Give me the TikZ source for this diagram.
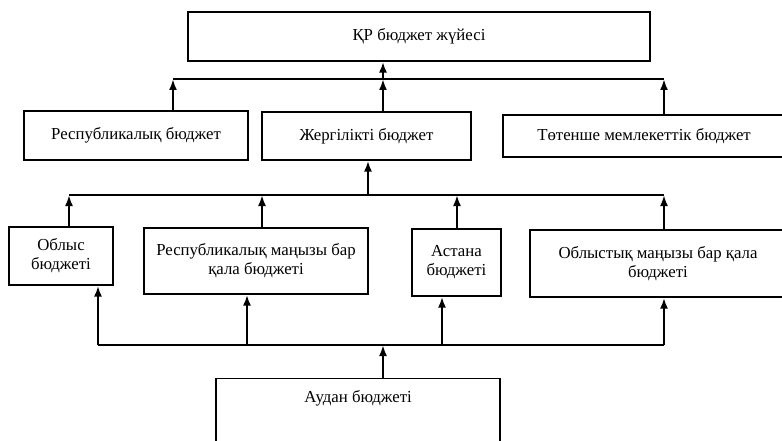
\documentclass[tikz,border=0pt]{standalone}
\usepackage{fontspec}
\setmainfont{Liberation Serif}
\usetikzlibrary{arrows.meta,positioning}
\tikzstyle{block} = [rectangle, draw, line width=1.2pt, align=center,
    inner sep=2pt, font=\fontsize{16.8}{19}\selectfont]
\tikzstyle{arrow} = [draw, -{Latex[length=11pt,width=8pt]}, line width=2.2pt]
\tikzstyle{line} = [draw, line width=1.5pt]

\begin{document}
\begin{tikzpicture}[x=1pt, y=-1pt]
      \useasboundingbox (0,0) rectangle (782,441);
      % Place nodes
      \node [block, minimum width=462pt, minimum height=49pt] at (419,36.5) (budgetSystem) {ҚР бюджет жүйесі};

      \node [block, minimum width=224pt, minimum height=49pt] at (136,135.5) (republicBudget) {Республикалық бюджет};
      \node [block, minimum width=209pt, minimum height=48pt] at (366.5,136) (localBudget) {Жергілікті бюджет};
      \node [block, minimum width=282pt, minimum height=42pt] at (644,136) (emergencyBudget) {Төтенше мемлекеттік бюджет};

      \node [block, minimum width=104pt, minimum height=58pt] at (61,256) (regionBudget) {Облыс\\бюджеті};
      \node [block, minimum width=224pt, minimum height=66pt] at (256,261) (republicCityBudget) {Республикалық маңызы бар\\қала бюджеті};
      \node [block, minimum width=89pt, minimum height=67pt] at (456.5,262.5) (astanaBudget) {Астана\\бюджеті};
      \node [block, minimum width=256pt, minimum height=67pt] at (658,263.5) (regionCityBudget) {Облыстық маңызы бар қала\\бюджеті};

      \node [block, minimum width=284pt, minimum height=70pt, text depth=34pt, anchor=north] at (358,378) (districtBudget) {Аудан бюджеті};

      % bus points
      \coordinate (topBusL) at (173,79);
      \coordinate (topBusM) at (383,79);
      \coordinate (topBusR) at (664,79);
      \coordinate (midBusL) at (69,195);
      \coordinate (midBusR) at (664,195);
      \coordinate (lowBusL) at (98,345);
      \coordinate (lowBusR) at (664,345);

      \path [line] (topBusL) -- (topBusR);
      \path [arrow] (topBusL |- republicBudget.north) -- (topBusL);
      \path [arrow] (topBusM |- localBudget.north) -- (topBusM);
      \path [arrow] (topBusR |- emergencyBudget.north) -- (topBusR);
      \path [arrow] (topBusM) -- (topBusM |- budgetSystem.south);

      \path [line] (midBusL) -- (midBusR);
      \path [arrow] (midBusL |- regionBudget.north) -- (midBusL);
      \path [arrow] (262,0 |- republicCityBudget.north) -- (262,195);
      \path [arrow] (457,0 |- astanaBudget.north) -- (457,195);
      \path [arrow] (midBusR |- regionCityBudget.north) -- (midBusR);
      \path [arrow] (368,195) -- (368,0 |- localBudget.south);

      \path [line] (lowBusL) -- (lowBusR);
      \path [arrow] (lowBusL) -- (lowBusL |- regionBudget.south);
      \path [arrow] (247,345) -- (247,0 |- republicCityBudget.south);
      \path [arrow] (442,345) -- (442,0 |- astanaBudget.south);
      \path [arrow] (lowBusR) -- (lowBusR |- regionCityBudget.south);
      \path [arrow] (383,0 |- districtBudget.north) -- (383,345);

  \end{tikzpicture}
\end{document}
